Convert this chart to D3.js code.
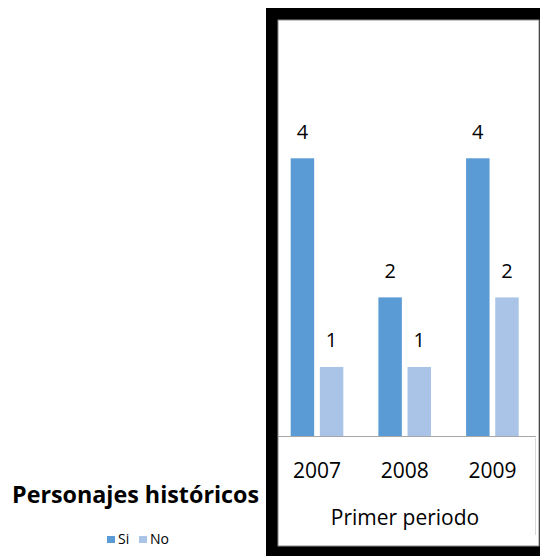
<!DOCTYPE html>
<html>
<head>
<meta charset="utf-8">
<script src="https://cdn.jsdelivr.net/npm/d3@7"></script>
<style>
  body { margin: 0; background: #fff; }
  svg { display: block; font-family: "Open Sans", sans-serif; }
</style>
</head>
<body>
<script>
// data ===========================================
var years = ['2007', '2008', '2009'];
var series = ['Si', 'No'];
var siValues = [4, 2, 4];
var noValues = [1, 1, 2];
var title = 'Personajes históricos';
var axisTitle = 'Primer periodo';

var colors = { Si: '#5b9bd5', No: '#a9c4e6' };

var rows = years.map((y, i) => ({ year: y, Si: siValues[i], No: noValues[i] }));
// ================================================

var width = 540, height = 556;

var svg = d3.select('body').append('svg')
    .attr('width', width)
    .attr('height', height);

// black frame around the plot
svg.append('rect')
    .attr('x', 266).attr('y', 8)
    .attr('width', 280).attr('height', 560)
    .attr('fill', '#000');
svg.append('rect')
    .attr('x', 278).attr('y', 20)
    .attr('width', 261).attr('height', 526)
    .attr('fill', '#fff')
    .attr('stroke', '#8c8c8c')
    .attr('stroke-width', 1);

var x = d3.scaleBand()
    .domain(years)
    .range([273.15, 536.25])
    .paddingInner(0.4)
    .paddingOuter(0.2);

var xSub = d3.scaleBand()
    .domain(series)
    .range([0, x.bandwidth()])
    .paddingInner(0.195);

var y = d3.scaleLinear()
    .domain([0, 4])
    .range([436.5, 158.3]);

var groups = svg.selectAll('g.year')
    .data(rows)
  .enter().append('g')
    .attr('class', 'year')
    .attr('transform', d => 'translate(' + x(d.year) + ',0)');

groups.selectAll('rect')
    .data(d => series.map(k => ({ key: k, value: d[k] })))
  .enter().append('rect')
    .attr('x', d => xSub(d.key))
    .attr('y', d => y(d.value))
    .attr('width', xSub.bandwidth())
    .attr('height', d => y(0) - y(d.value))
    .attr('fill', d => colors[d.key]);

groups.selectAll('text')
    .data(d => series.map(k => ({ key: k, value: d[k] })))
  .enter().append('text')
    .attr('x', d => xSub(d.key) + xSub.bandwidth() / 2)
    .attr('y', d => y(d.value) - 19.5)
    .attr('text-anchor', 'middle')
    .attr('font-size', '20px')
    .attr('fill', '#000')
    .text(d => d.value);

// x axis
var xAxis = d3.axisBottom(x)
    .tickSize(0)
    .tickPadding(26.6);

var axisG = svg.append('g')
    .attr('transform', 'translate(0,' + y(0) + ')')
    .call(xAxis);
axisG.select('.domain').remove();
axisG.selectAll('text')
    .attr('font-size', '21px')
    .attr('font-family', '"Open Sans", sans-serif')
    .attr('fill', '#000');

svg.append('line')
    .attr('x1', 278).attr('x2', 536)
    .attr('y1', y(0)).attr('y2', y(0))
    .attr('stroke', '#a6a6a6');

svg.append('line')
    .attr('x1', 535.5).attr('x2', 535.5)
    .attr('y1', 438).attr('y2', 535)
    .attr('stroke', '#d9d9d9');

svg.append('text')
    .attr('x', 405)
    .attr('y', 525)
    .attr('text-anchor', 'middle')
    .attr('font-size', '21px')
    .attr('fill', '#000')
    .text(axisTitle);

// title and legend outside the frame
svg.append('text')
    .attr('x', 12)
    .attr('y', 503)
    .attr('font-size', '23.3px')
    .attr('font-weight', 'bold')
    .attr('fill', '#000')
    .text(title);

var legend = svg.append('g');
var legendX = [107, 139];
series.forEach((s, i) => {
  legend.append('rect')
      .attr('x', legendX[i]).attr('y', 536)
      .attr('width', 8).attr('height', 7)
      .attr('fill', colors[s]);
  legend.append('text')
      .attr('x', legendX[i] + 11)
      .attr('y', 543.5)
      .attr('font-size', '14px')
      .attr('fill', '#000')
      .text(s);
});
</script>
</body>
</html>
